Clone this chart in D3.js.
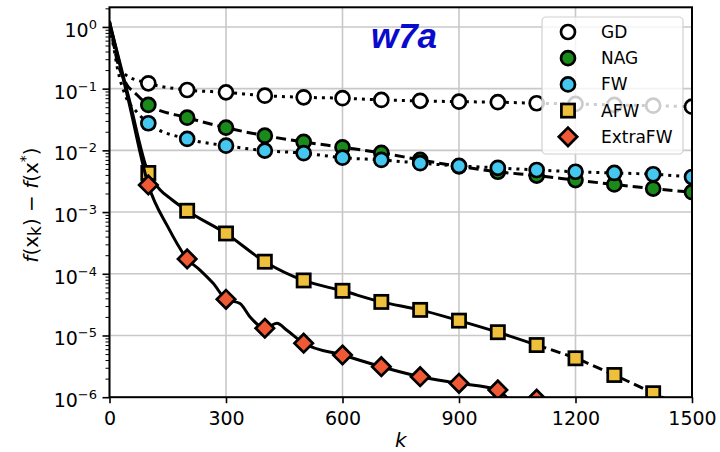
<!DOCTYPE html>
<html>
<head>
<meta charset="utf-8">
<script src="https://cdn.jsdelivr.net/npm/d3@7"></script>
<style>
  body { margin: 0; background: #fff; }
  text { font-family: "DejaVu Sans", sans-serif; }
</style>
</head>
<body>
<div id="chart"></div>
<script>
// iterations and f(x_k) - f(x*)
const gdK = [0, 10, 20, 40, 100, 200, 300, 400, 500, 600, 700, 800, 900, 1000, 1100, 1200, 1300, 1400, 1500]
const gdF = [1.25, 0.6, 0.3, 0.17, 0.122, 0.095, 0.087, 0.077, 0.0724, 0.070, 0.0656, 0.0634, 0.0615, 0.0604, 0.058, 0.0565, 0.0545, 0.053, 0.051]

const nagK = [0, 10, 20, 40, 70, 100, 200, 300, 400, 500, 600, 700, 800, 900, 1000, 1100, 1200, 1300, 1400, 1500]
const nagF = [1.1, 0.55, 0.28, 0.13, 0.08, 0.0544, 0.0339, 0.0233, 0.0173, 0.0137, 0.0112, 0.0091, 0.0070, 0.0055, 0.0045, 0.0039, 0.0033, 0.0028, 0.0024, 0.0021]

const fwK = [0, 10, 20, 40, 70, 100, 200, 300, 400, 500, 600, 700, 800, 900, 1000, 1100, 1200, 1300, 1400, 1500]
const fwF = [1.0, 0.5, 0.22, 0.08, 0.042, 0.0275, 0.0153, 0.0119, 0.0099, 0.0090, 0.0076, 0.0070, 0.0062, 0.0056, 0.0052, 0.0048, 0.0045, 0.0043, 0.0041, 0.0037]

const afwK = [0, 50, 100, 130, 160, 200, 300, 400, 500, 600, 700, 800, 900, 1000, 1100, 1200, 1300, 1400, 1500]
const afwF = [1.2, 0.07, 0.0043, 0.0023, 0.0016, 0.00105, 4.5e-4, 1.57e-4, 7.8e-5, 5.3e-5, 3.5e-5, 2.6e-5, 1.74e-5, 1.13e-5, 7.0e-6, 4.27e-6, 2.29e-6, 1.16e-6, 6e-7]

const xfwK = [0, 50, 100, 150, 200, 233, 267, 300, 336, 362, 400, 431, 456, 500, 600, 700, 800, 900, 1000, 1040, 1100, 1200]
const xfwF = [1.2, 0.06, 0.00275, 5.8e-4, 1.74e-4, 1.15e-4, 7e-5, 3.86e-5, 3.3e-5, 2.0e-5, 1.31e-5, 1.58e-5, 1.23e-5, 7.5e-6, 4.83e-6, 3.12e-6, 2.15e-6, 1.68e-6, 1.31e-6, 8.5e-7, 9.3e-7, 5e-7]

const names = ['GD', 'NAG', 'FW', 'AFW', 'ExtraFW']
const fills = ['#ffffff', '#1a8a1a', '#45c8f0', '#efc03c', '#ef5a35']
const shapes = ['circle', 'circle', 'circle', 'square', 'diamond']

const xTicks = [0, 300, 600, 900, 1200, 1500]
const yTicks = [1e-6, 1e-5, 1e-4, 1e-3, 1e-2, 1e-1, 1]
const yExp = ['−6', '−5', '−4', '−3', '−2', '−1', '0']

const W = 720, H = 452
const mLeft = 109.5, mRight = 692, mTop = 7.3, mBottom = 397.2

const svg = d3.select("#chart")
    .append("svg")
    .attr("width", W)
    .attr("height", H)

const x = d3.scaleLinear().domain([0, 1500]).range([mLeft, mRight])
const y = d3.scaleLog().domain([1e-6, 2.08]).range([mBottom, mTop])

// grid
svg.append("g").selectAll("line")
    .data(xTicks)
    .join("line")
    .attr("x1", d => x(d)).attr("x2", d => x(d))
    .attr("y1", mTop).attr("y2", mBottom)
    .style("stroke", "#c8c8c8").style("stroke-width", 1.6)
svg.append("g").selectAll("line")
    .data(yTicks)
    .join("line")
    .attr("x1", mLeft).attr("x2", mRight)
    .attr("y1", d => y(d)).attr("y2", d => y(d))
    .style("stroke", "#c8c8c8").style("stroke-width", 1.6)

// clip for the plot area
svg.append("clipPath").attr("id", "clip")
    .append("rect")
    .attr("x", mLeft).attr("y", mTop)
    .attr("width", mRight - mLeft).attr("height", mBottom - mTop)

const plot = svg.append("g").attr("clip-path", "url(#clip)")

const line = d3.line()
    .x(d => x(d[0]))
    .y(d => y(d[1]))
    .curve(d3.curveMonotoneX)

function drawMarker(g, shape, fill, cx, cy) {
    if (shape == 'circle') {
        g.append("circle").attr("cx", cx).attr("cy", cy).attr("r", 7)
            .style("fill", fill).style("stroke", "black").style("stroke-width", 2.7)
    } else if (shape == 'square') {
        g.append("rect").attr("x", cx - 6.6).attr("y", cy - 6.6)
            .attr("width", 13.2).attr("height", 13.2)
            .style("fill", fill).style("stroke", "black").style("stroke-width", 2.7)
    } else {
        const s = 9.2
        g.append("path")
            .attr("d", `M${cx},${cy - s}L${cx + s},${cy}L${cx},${cy + s}L${cx - s},${cy}Z`)
            .style("fill", fill).style("stroke", "black").style("stroke-width", 2.7)
    }
}

const series = [
    { k: gdK, f: gdF, dash: "3,5" },
    { k: nagK, f: nagF, dash: "10,5" },
    { k: fwK, f: fwF, dash: "3,5" },
    { k: afwK, f: afwF, dash: "10,5", solidUntil: 1100 },
    { k: xfwK, f: xfwF, dash: null }
]

series.forEach((s, i) => {
    const pts = s.k.map((k, j) => [k, s.f[j]])
    const g = plot.append("g")
    if (s.solidUntil) {
        // AFW looks solid while it is noisy, dashed afterwards
        g.append("path")
            .attr("d", line(pts.filter(p => p[0] <= s.solidUntil)))
            .style("fill", "none").style("stroke", "black").style("stroke-width", 3)
        g.append("path")
            .attr("d", line(pts.filter(p => p[0] >= s.solidUntil)))
            .style("fill", "none").style("stroke", "black").style("stroke-width", 3)
            .style("stroke-dasharray", s.dash)
    } else {
        g.append("path")
            .attr("d", line(pts))
            .style("fill", "none").style("stroke", "black").style("stroke-width", 3)
            .style("stroke-dasharray", s.dash)
    }
    pts.filter(p => p[0] > 0 && p[0] % 100 == 0)
        .forEach(p => drawMarker(g, shapes[i], fills[i], x(p[0]), y(p[1])))
})

// frame
svg.append("rect")
    .attr("x", mLeft).attr("y", mTop)
    .attr("width", mRight - mLeft).attr("height", mBottom - mTop)
    .style("fill", "none").style("stroke", "black").style("stroke-width", 2)

// x axis
const xAxis = svg.append("g")
    .attr("transform", `translate(0,${mBottom})`)
    .call(d3.axisBottom(x).tickValues(xTicks).tickSize(6).tickPadding(8).tickFormat(d => d))
xAxis.select(".domain").remove()
xAxis.selectAll("line").style("stroke-width", 1.6)
xAxis.selectAll("text").style("font-size", "19px").style("font-family", "DejaVu Sans").style("fill", "#000")

// y axis: major + minor ticks
const minor = []
for (let e = -6; e <= 0; e++) {
    for (let m = 2; m <= 9; m++) {
        const v = m * Math.pow(10, e)
        if (v <= 2.08) minor.push(v)
    }
}
const yAxis = svg.append("g")
    .attr("transform", `translate(${mLeft},0)`)
    .call(d3.axisLeft(y).tickValues(yTicks).tickSize(7).tickFormat(""))
yAxis.select(".domain").remove()
yAxis.selectAll("line").style("stroke-width", 1.6)
const yMinor = svg.append("g")
    .attr("transform", `translate(${mLeft},0)`)
    .call(d3.axisLeft(y).tickValues(minor).tickSize(4).tickFormat(""))
yMinor.select(".domain").remove()
yMinor.selectAll("line").style("stroke-width", 1)

const yLab = svg.append("g").selectAll("text")
    .data(yTicks)
    .join("text")
    .attr("x", 97)
    .attr("y", d => y(d) + 10)
    .attr("text-anchor", "end")
    .style("font-size", "19px")
yLab.append("tspan").text("10")
yLab.append("tspan").attr("dy", -8).style("font-size", "13px").text((d, i) => yExp[i])

// axis labels
svg.append("text")
    .attr("x", (mLeft + mRight) / 2)
    .attr("y", 447)
    .attr("text-anchor", "middle")
    .style("font-size", "20px")
    .style("font-style", "italic")
    .text("k")

const ylabel = svg.append("text")
    .attr("transform", "translate(38,205) rotate(-90)")
    .attr("text-anchor", "middle")
    .style("font-size", "20px")
ylabel.append("tspan").style("font-style", "italic").text("f")
ylabel.append("tspan").text("(x")
ylabel.append("tspan").attr("dy", 3).style("font-size", "17px").text("k")
ylabel.append("tspan").attr("dy", -3).text(") − ")
ylabel.append("tspan").style("font-style", "italic").text("f")
ylabel.append("tspan").text("(x")
ylabel.append("tspan").attr("dy", -8).style("font-size", "14px").text("*")
ylabel.append("tspan").attr("dy", 8).text(")")

// title
svg.append("text")
    .attr("x", 404)
    .attr("y", 48)
    .attr("text-anchor", "middle")
    .style("font-family", "Liberation Sans, Arial, sans-serif")
    .style("font-weight", "bold")
    .style("font-style", "italic")
    .style("font-size", "35px")
    .style("fill", "#0a0acc")
    .text("w7a")

// legend
const leg = svg.append("g")
leg.append("rect")
    .attr("x", 542).attr("y", 17)
    .attr("width", 141).attr("height", 137)
    .attr("rx", 4)
    .style("fill", "white").style("fill-opacity", 0.8)
    .style("stroke", "#d0d0d0").style("stroke-width", 1.2)
names.forEach((n, i) => {
    const ly = 32 + i * 26.2
    drawMarker(leg, shapes[i], fills[i], 568, ly)
    leg.append("text")
        .attr("x", 601).attr("y", ly + 6)
        .style("font-size", "17px")
        .text(n)
})
</script>
</body>
</html>
